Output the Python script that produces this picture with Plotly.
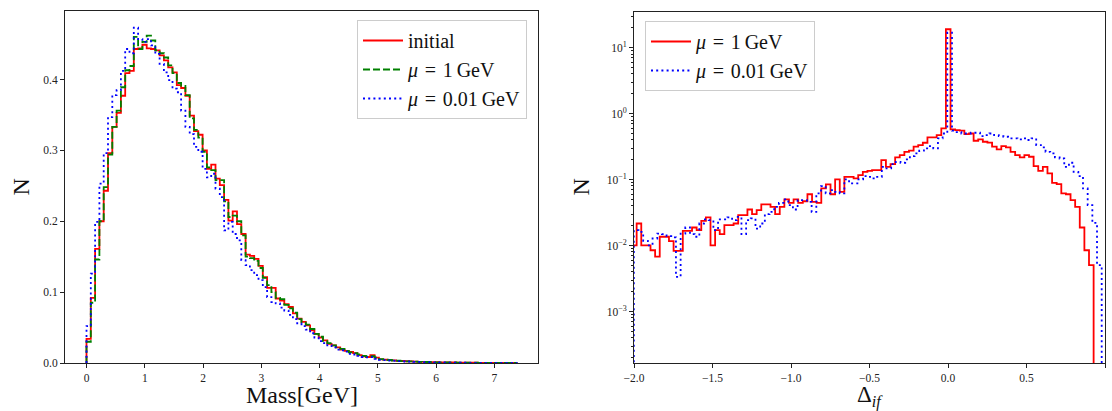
import numpy as np
import plotly.graph_objects as go

# ---------------- data ----------------
MASS_RANGE = (0.0, 7.38)
mass_initial = [0.034,0.092,0.161,0.200,0.243,0.296,0.333,0.353,0.377,0.409,
 0.412,0.443,0.444,0.449,0.444,0.443,0.441,0.434,0.427,0.417,
 0.410,0.392,0.388,0.377,0.349,0.327,0.322,0.300,0.274,0.280,
 0.260,0.251,0.230,0.201,0.214,0.196,0.182,0.153,0.151,0.147,
 0.137,0.121,0.106,0.106,0.091,0.088,0.083,0.079,0.070,0.0625,
 0.058,0.053,0.046,0.041,0.036,0.032,0.027,0.025,0.022,0.019,
 0.017,0.0155,0.014,0.011,0.0094,0.0085,0.011,0.0075,0.0050,0.0047,
 0.0040,0.0038,0.0030,0.0028,
 0.0025,0.0022,0.0020,0.0017,0.0015,0.0013,0.0012,0.0011,0.0009,0.0008,
 0.0008,0.0007,0.0006,0.0005,0.0005,0.0004,0.0004,0.0003,0.0003,0.0003,
 0.0002,0.0002,0.0002,0.0001,0.0001,0.0001]
mass_mu1 = [0.030,0.085,0.146,0.200,0.248,0.294,0.333,0.356,0.389,0.413,
 0.419,0.460,0.443,0.453,0.462,0.455,0.441,0.437,0.431,0.420,
 0.409,0.395,0.391,0.378,0.345,0.329,0.318,0.298,0.276,0.272,
 0.258,0.258,0.228,0.206,0.208,0.200,0.180,0.150,0.148,0.144,
 0.134,0.120,0.110,0.100,0.092,0.090,0.082,0.077,0.071,0.062,
 0.057,0.054,0.048,0.041,0.037,0.031,0.028,0.025,0.022,0.020,
 0.017,0.015,0.014,0.012,0.010,0.009,0.0095,0.008,0.0055,0.0048,
 0.0042,0.0035,0.0032,0.0026,
 0.0024,0.0022,0.0019,0.0017,0.0015,0.0014,0.0012,0.0010,0.0009,0.0008,
 0.0007,0.0007,0.0006,0.0005,0.0005,0.0004,0.0004,0.0003,0.0003,0.0002,
 0.0002,0.0002,0.0001,0.0001,0.0001,0.0001]
mass_mu001 = [0.052,0.126,0.199,0.253,0.296,0.347,0.378,0.385,0.412,0.443,
 0.437,0.473,0.457,0.453,0.457,0.448,0.436,0.422,0.410,0.399,
 0.387,0.382,0.356,0.333,0.323,0.305,0.298,0.274,0.262,0.267,
 0.246,0.234,0.187,0.199,0.182,0.173,0.145,0.138,0.131,0.124,
 0.117,0.107,0.093,0.086,0.084,0.078,0.074,0.068,0.062,0.056,
 0.052,0.047,0.042,0.036,0.031,0.028,0.025,0.022,0.019,0.018,
 0.016,0.013,0.012,0.010,0.0085,0.0078,0.0082,0.006,0.0045,0.0040,
 0.0035,0.0032,0.0026,0.0023,
 0.0021,0.0019,0.0017,0.0015,0.0013,0.0012,0.0010,0.0009,0.0008,0.0007,
 0.0006,0.0006,0.0005,0.0004,0.0004,0.0003,0.0003,0.0003,0.0002,0.0002,
 0.0002,0.0001,0.0001,0.0001,0.0001,0.0001]

DELTA_RANGE_MU1 = (-2.0125, 0.9275)
DELTA_RANGE_MU001 = (-2.001, 0.979)
delta_mu1 = [0.0101,0.0216,0.0101,0.0101,0.0085,0.0068,0.0136,0.0136,0.0117,0.0083,
 0.0083,0.0167,0.0167,0.0188,0.0171,0.0237,0.0267,0.0101,0.0171,0.0149,
 0.0204,0.0204,0.0216,0.0289,0.0289,0.0352,0.0299,0.0344,0.042,0.042,
 0.0387,0.0299,0.0387,0.050,0.0445,0.050,0.0445,0.047,0.060,0.046,
 0.0445,0.0734,0.0845,0.060,0.1007,0.0653,0.110,0.110,0.104,0.117,
 0.131,0.136,0.139,0.139,0.198,0.156,0.172,0.217,0.235,0.264,
 0.274,0.315,0.334,0.362,0.437,0.437,0.473,0.598,19.0,0.578,
 0.563,0.551,0.49,0.50,0.388,0.407,0.375,0.363,0.315,0.287,
 0.322,0.308,0.264,0.235,0.217,0.235,0.222,0.160,0.136,0.156,
 0.124,0.0895,0.0855,0.0617,0.060,0.0489,0.0387,0.0188,0.0085,0.00505]
delta_mu001 = [0.0171,0.0161,0.0118,0.0101,0.0128,0.0152,0.0149,0.0139,0.0133,0.00335,
 0.0152,0.0188,0.0149,0.0136,0.0216,0.0249,0.0243,0.0171,0.0249,0.0249,
 0.0267,0.0243,0.0273,0.0149,0.0243,0.0258,0.0181,0.0216,0.0299,0.0324,
 0.0387,0.0445,0.050,0.041,0.0352,0.0489,0.0489,0.046,0.0324,0.0617,
 0.0796,0.0617,0.0693,0.0653,0.0617,0.1007,0.0875,0.0875,0.1007,0.113,
 0.110,0.104,0.110,0.156,0.148,0.172,0.186,0.18,0.202,0.227,
 0.25,0.274,0.297,0.322,0.297,0.422,0.50,16.9,0.551,0.526,
 0.50,0.50,0.513,0.513,0.457,0.473,0.50,0.473,0.457,0.446,
 0.422,0.422,0.407,0.422,0.398,0.422,0.334,0.308,0.264,0.25,
 0.217,0.209,0.156,0.18,0.131,0.113,0.0734,0.041,0.0221,0.00505]

mass_ticks = [0, 1, 2, 3, 4, 5, 6, 7]
n_ticks = [0.0, 0.1, 0.2, 0.3, 0.4]
delta_ticks = [-2.0, -1.5, -1.0, -0.5, 0.0, 0.5, 1.0]
log_exps = [-3, -2, -1, 0, 1]

SP = "\u2004"
NAME_INITIAL = "initial"
NAME_MU1 = "<i>μ</i>" + SP + "=" + SP + "1" + "\u2009" + "GeV"
NAME_MU001 = "<i>μ</i>" + SP + "=" + SP + "0.01" + "\u2009" + "GeV"

# ---------------- helpers ----------------
W, H = 1112, 411
def px(x):
    return x / W
def py(y):
    return (H - y) / H

def step_xy(rng, vals, base):
    edges = np.linspace(rng[0], rng[1], len(vals) + 1)
    x = [edges[0]] + list(edges)
    y = [base] + list(vals) + [base]
    return x, y

SERIF = "Liberation Serif, Times New Roman, serif"
RED, GREEN, BLUE = "#ff0000", "#008000", "#0000ff"
LW = 1.8

fig = go.Figure()

# left panel
for vals, name, color, dash in [
    (mass_initial, NAME_INITIAL, RED, "solid"),
    (mass_mu1, NAME_MU1, GREEN, "7px,3px"),
    (mass_mu001, NAME_MU001, BLUE, "2px,3.2px"),
]:
    x, y = step_xy(MASS_RANGE, vals, 0.0)
    fig.add_trace(go.Scatter(x=x, y=y, mode="lines", name=name,
                             line=dict(color=color, width=LW, dash=dash, shape="hv"),
                             xaxis="x", yaxis="y", legend="legend"))

# right panel
for vals, rng, name, color, dash in [
    (delta_mu1, DELTA_RANGE_MU1, NAME_MU1, RED, "solid"),
    (delta_mu001, DELTA_RANGE_MU001, NAME_MU001, BLUE, "2px,3.2px"),
]:
    x, y = step_xy(rng, vals, 1e-7)
    fig.add_trace(go.Scatter(x=x, y=y, mode="lines", name=name,
                             line=dict(color=color, width=LW, dash=dash, shape="hv"),
                             xaxis="x2", yaxis="y2", legend="legend2"))

axis_common = dict(showline=True, linecolor="#222", linewidth=1, mirror=True,
                   ticks="outside", ticklen=4, tickwidth=1, tickcolor="#222",
                   showgrid=False, zeroline=False, automargin=False,
                   tickfont=dict(family=SERIF, size=11.5, color="#222"))

minor_vals = [m * 10.0 ** e for e in range(-4, 2) for m in range(2, 10)]

legend_common = dict(bgcolor="rgba(255,255,255,0.85)", bordercolor="#cccccc", borderwidth=1,
                     font=dict(family=SERIF, size=20, color="#111"), itemwidth=40,
                     tracegroupgap=0)

fig.update_layout(
    width=W, height=H, margin=dict(l=0, r=0, t=0, b=0),
    paper_bgcolor="white", plot_bgcolor="white",
    font=dict(family=SERIF, color="#111"),
    xaxis=dict(domain=[px(65), px(538)], range=[-0.369, 7.749],
               tickvals=mass_ticks, anchor="y", **axis_common),
    yaxis=dict(domain=[py(363), py(11)], range=[0, 0.4966],
               tickvals=n_ticks, tickformat=".1f", anchor="x", **axis_common),
    xaxis2=dict(domain=[px(634), px(1105)], range=[-2.0, 1.0],
                tickvals=delta_ticks, tickformat=".1f", anchor="y2", **axis_common),
    yaxis2=dict(domain=[py(363), py(12)], type="log", range=[np.log10(1.66e-4), np.log10(34.7)],
                tickvals=[10.0 ** e for e in log_exps],
                ticktext=["10<sup>%s</sup>" % (str(e).replace("-", "−")) for e in log_exps],
                minor=dict(tickvals=minor_vals, ticks="outside", ticklen=2.5, tickcolor="#222"),
                anchor="x2", **axis_common),
    legend=dict(x=px(527), y=py(20), xanchor="right", yanchor="top", **legend_common),
    legend2=dict(x=px(645), y=py(21), xanchor="left", yanchor="top", **legend_common),
    showlegend=True,
)

ann_font = dict(family=SERIF, size=24, color="#111")
def label(text, x, y, angle=0, size=24):
    fig.add_annotation(text=text, x=px(x), y=py(y), xref="paper", yref="paper",
                       xanchor="center", yanchor="middle", showarrow=False,
                       textangle=angle, font=dict(family=SERIF, size=size, color="#111"))

label("N", 20.5, 187, -90)
label("N", 580.5, 187, -90)
label("Mass[GeV]", 301.5, 395)
label("Δ<sub><i>if</i></sub>", 869.5, 396, size=23)

fig.write_html("out.html")
